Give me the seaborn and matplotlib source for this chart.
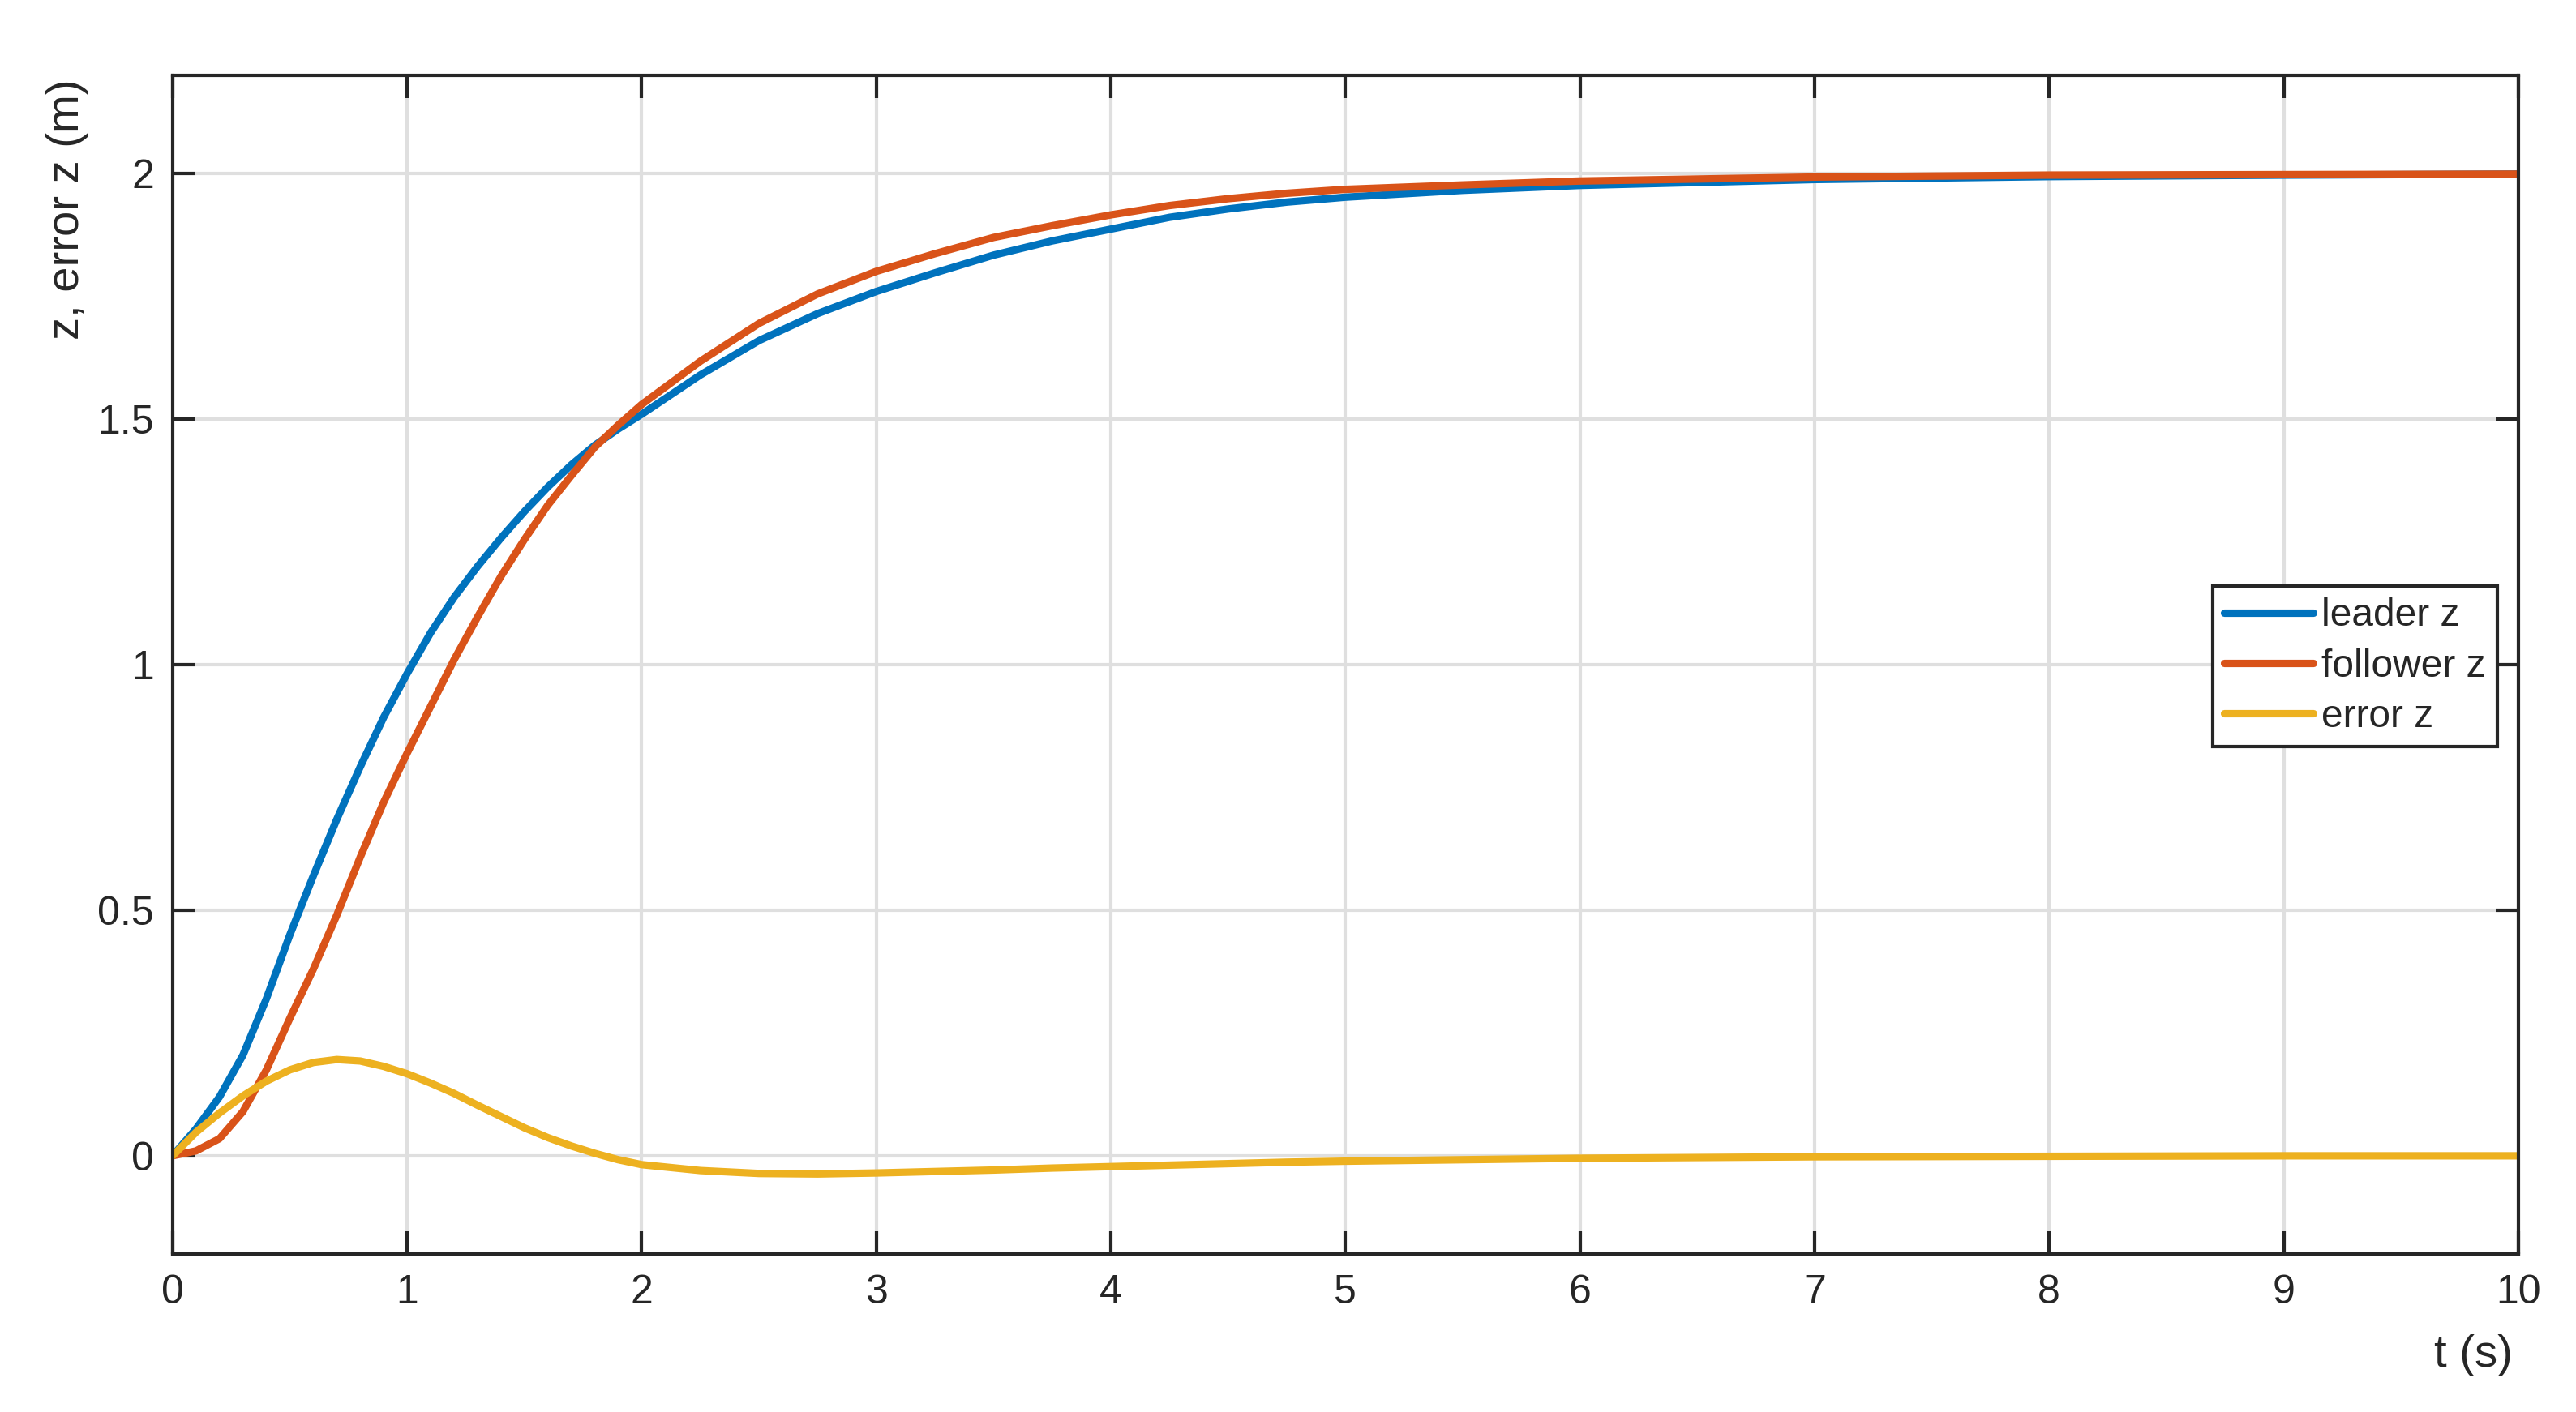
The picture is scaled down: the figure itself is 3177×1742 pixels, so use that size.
import numpy as np
import pandas as pd
import matplotlib
matplotlib.use('Agg')
import matplotlib.pyplot as plt
import seaborn as sns

# values
t = [0, 0.1, 0.2, 0.3, 0.4, 0.5, 0.6, 0.7, 0.8, 0.9, 1.0, 1.1, 1.2, 1.3, 1.4,
     1.5, 1.6, 1.7, 1.8, 1.9, 2.0, 2.25, 2.5, 2.75, 3.0, 3.25, 3.5, 3.75, 4.0,
     4.25, 4.5, 4.75, 5.0, 5.5, 6, 7, 8, 9, 10]
leader_z = [0, 0.055, 0.12, 0.205, 0.32, 0.45, 0.57, 0.685, 0.792, 0.893, 0.982,
            1.065, 1.137, 1.20, 1.258, 1.312, 1.362, 1.407, 1.447, 1.48, 1.51,
            1.59, 1.66, 1.715, 1.76, 1.798, 1.834, 1.863, 1.887, 1.911, 1.928,
            1.942, 1.952, 1.966, 1.976, 1.988, 1.994, 1.997, 1.999]
follower_z = [0, 0.01, 0.035, 0.09, 0.175, 0.28, 0.38, 0.49, 0.608, 0.72, 0.82,
              0.915, 1.01, 1.097, 1.18, 1.255, 1.325, 1.385, 1.443, 1.488, 1.53,
              1.618, 1.695, 1.755, 1.801, 1.837, 1.870, 1.894, 1.916, 1.935,
              1.949, 1.96, 1.968, 1.977, 1.985, 1.993, 1.997, 1.998, 1.999]
error_z = [0, 0.048, 0.087, 0.122, 0.152, 0.175, 0.19, 0.196, 0.193, 0.182,
           0.167, 0.148, 0.127, 0.103, 0.08, 0.057, 0.037, 0.02, 0.005, -0.008,
           -0.018, -0.03, -0.036, -0.037, -0.035, -0.032, -0.029, -0.025,
           -0.022, -0.019, -0.016, -0.013, -0.011, -0.008, -0.005, -0.002,
           -0.001, 0.0, 0.0]

series_names = ['leader z', 'follower z', 'error z']
series_colors = ['#0072BD', '#D95319', '#EDB120']
x_ticks = [0, 1, 2, 3, 4, 5, 6, 7, 8, 9, 10]
y_ticks = [0, 0.5, 1, 1.5, 2]
y_tick_labels = ['0', '0.5', '1', '1.5', '2']

df = pd.concat([
    pd.DataFrame({'t': t, 'z': leader_z, 'series': series_names[0]}),
    pd.DataFrame({'t': t, 'z': follower_z, 'series': series_names[1]}),
    pd.DataFrame({'t': t, 'z': error_z, 'series': series_names[2]}),
], ignore_index=True)

sns.set_style('ticks')
plt.rcParams['font.family'] = ['Liberation Sans', 'DejaVu Sans']
plt.rcParams['font.size'] = 12

dark = '#262626'
fig = plt.figure(figsize=(3177 / 300, 1742 / 300), dpi=300)
ax = fig.add_axes([0.0670, 0.1119, 0.9106, 0.8347])

sns.lineplot(data=df, x='t', y='z', hue='series', palette=series_colors,
             hue_order=series_names, sort=False, estimator=None,
             linewidth=2.2, ax=ax)

ax.set_xlim(0, 10)
ax.set_ylim(-0.2, 2.2)
ax.set_xticks(x_ticks)
ax.set_yticks(y_ticks)
ax.set_yticklabels(y_tick_labels)
ax.grid(True, color='#dfdfdf', linewidth=1.0)
ax.set_axisbelow(True)

for s in ax.spines.values():
    s.set_visible(True)
    s.set_color(dark)
    s.set_linewidth(1.0)
ax.tick_params(direction='in', length=6.8, width=1.0, color=dark,
               labelcolor=dark, labelsize=12, top=True, right=True)
ax.tick_params(axis='y', pad=5.5)
ax.tick_params(axis='x', pad=6)

ax.set_xlabel('t (s)', fontsize=13.5, color=dark)
ax.xaxis.set_label_coords(0.981, -0.068)
ax.set_ylabel('z, error z (m)', fontsize=13.5, color=dark, loc='top')
ax.yaxis.set_label_coords(-0.036, 0.997)

leg = ax.legend(loc='upper left', bbox_to_anchor=(0.8697, 0.5667),
                fontsize=11.5, frameon=True, fancybox=False, framealpha=1,
                edgecolor=dark, borderpad=0.3, handlelength=2.3,
                handletextpad=0.2, labelspacing=0.36, borderaxespad=0)
leg.get_frame().set_linewidth(1.0)
for h in leg.get_lines():
    h.set_linewidth(2.2)

plt.savefig('out.png', dpi=300)
plt.close()
